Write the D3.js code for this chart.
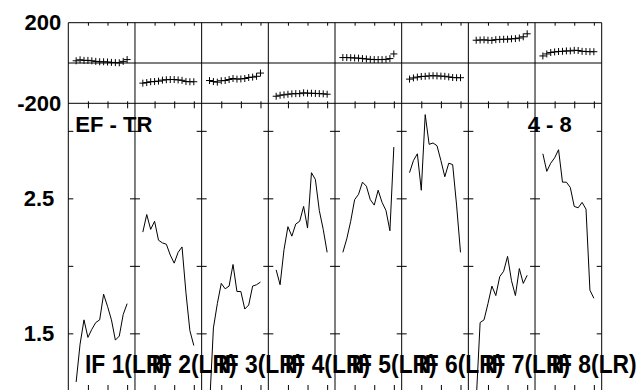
<!DOCTYPE html>
<html>
<head>
<meta charset="utf-8">
<script src="https://cdn.jsdelivr.net/npm/d3@7"></script>
<style>
  body { margin: 0; background: #fff; }
  svg text { font-family: "Liberation Sans", Arial, sans-serif; font-weight: bold; fill: #000; }
</style>
</head>
<body>
<div id="chart"></div>
<script>
// panel names and annotations
const columns = ["1", "2", "3", "4", "5", "6", "7", "8"];
const columnLabels = columns.map(c => `IF ${c}(LR)`);
const leftNote = "EF - TR";
const rightNote = "4 - 8";

// x positions inside each column (same for all panels)
const steps = [2, 3, 4, 5, 6, 7, 8, 9, 10, 11, 12, 13, 14, 15];
const stepTicks = [5, 10, 15];

// upper panel (crosses), one array per column
const upper1 = [11, 16, 13, 13, 11, 8, 6, 6, 5, 3, 2, 1, 8, 17];
const upper2 = [-100, -97, -93, -92, -90, -85, -83, -82, -82, -84, -86, -92, -93, -93];
const upper3 = [-87, -92, -95, -88, -87, -82, -77, -80, -79, -77, -72, -70, -66, -50];
const upper4 = [-165, -160, -158, -155, -153, -152, -152, -148, -150, -150, -151, -152, -153, -155];
const upper5 = [27, 27, 26, 25, 24, 22, 20, 18, 17, 17, 17, 18, 22, 45];
const upper6 = [-80, -74, -70, -67, -66, -64, -63, -64, -65, -66, -69, -72, -73, -73];
const upper7 = [113, 114, 115, 113, 112, 116, 117, 118, 118, 120, 121, 124, 130, 145];
const upper8 = [35, 45, 52, 55, 57, 58, 60, 60, 63, 62, 58, 57, 56, 56];
const upperTicks = [-200, 200];

// lower panel (lines), one array per column
const lower1 = [1.14, 1.42, 1.60, 1.47, 1.53, 1.58, 1.60, 1.79, 1.70, 1.60, 1.45, 1.48, 1.64, 1.72];
const lower2 = [2.25, 2.38, 2.27, 2.33, 2.19, 2.17, 2.16, 2.08, 2.02, 2.10, 2.14, 1.80, 1.52, 1.41];
const lower3 = [0.95, 1.54, 1.72, 1.87, 1.83, 1.85, 2.01, 1.81, 1.81, 1.68, 1.71, 1.85, 1.86, 1.88];
const lower4 = [1.97, 1.86, 2.12, 2.29, 2.22, 2.31, 2.33, 2.44, 2.28, 2.69, 2.64, 2.41, 2.27, 2.10];
const lower5 = [2.10, 2.20, 2.33, 2.49, 2.53, 2.62, 2.59, 2.49, 2.45, 2.56, 2.47, 2.41, 2.26, 2.88];
const lower6 = [2.69, 2.78, 2.83, 2.56, 3.12, 2.90, 2.91, 2.89, 2.78, 2.66, 2.76, 2.75, 2.45, 2.10];
const lower7 = [1.00, 1.58, 1.60, 1.72, 1.85, 1.78, 1.92, 1.96, 2.07, 1.89, 1.78, 1.98, 1.87, 1.93];
const lower8 = [2.83, 2.70, 2.76, 2.80, 2.86, 2.62, 2.62, 2.58, 2.44, 2.43, 2.47, 2.42, 1.82, 1.76];
const lowerTicks = [1.5, 2.0, 2.5, 3.0];
const lowerLabels = [1.5, 2.5];

const upperSeries = [upper1, upper2, upper3, upper4, upper5, upper6, upper7, upper8];
const lowerSeries = [lower1, lower2, lower3, lower4, lower5, lower6, lower7, lower8];

// Chart dimensions
const W = 641, H = 390;
const plotLeft = 68.3, plotRight = 601.7, plotTop = 22.7, split = 103.3, plotBottom = 391;

const svg = d3.select("#chart").append("svg")
  .attr("width", W)
  .attr("height", H);

// Scales
const col = d3.scaleBand().domain(d3.range(columns.length)).range([plotLeft, plotRight]);
const x = d3.scaleLinear().domain([0, 17]).range([0, col.bandwidth()]);
const yUp = d3.scaleLinear().domain([-200, 200]).range([split, plotTop]);
const yLow = d3.scaleLinear().domain([1.073, 3.204]).range([plotBottom, split]);

svg.append("clipPath").attr("id", "lowclip")
  .append("rect")
  .attr("x", plotLeft).attr("y", split)
  .attr("width", plotRight - plotLeft).attr("height", plotBottom - split);

// frame: zero line, panel separators, column separators
const frame = svg.append("g").attr("stroke", "#000").attr("stroke-width", 1).attr("fill", "none");
[plotTop, yUp(0), split].forEach(yy => {
  frame.append("line").attr("x1", plotLeft).attr("x2", plotRight).attr("y1", yy).attr("y2", yy);
});
d3.range(columns.length + 1).forEach(i => {
  const xx = i < columns.length ? col(i) : plotRight;
  frame.append("line").attr("x1", xx).attr("x2", xx).attr("y1", plotTop).attr("y2", plotBottom + 5);
});

// per column axes (ticks only) and marks
columns.forEach((c, i) => {
  const g = svg.append("g").attr("transform", `translate(${col(i)},0)`);

  const ticks = [
    { axis: d3.axisBottom(x).tickSize(3), y: plotTop },
    { axis: d3.axisTop(x).tickSize(2), y: split },
    { axis: d3.axisBottom(x).tickSize(5), y: split },
    { axis: d3.axisTop(x).tickSize(5), y: plotBottom - 1 }
  ];
  ticks.forEach(t => {
    g.append("g")
      .attr("transform", `translate(0,${t.y})`)
      .call(t.axis.tickValues(stepTicks).tickFormat(""))
      .call(a => a.select(".domain").remove());
  });

  g.append("g")
    .call(d3.axisRight(yLow).tickValues(lowerTicks).tickSize(5).tickFormat(""))
    .call(a => a.select(".domain").remove());
  g.append("g")
    .attr("transform", `translate(${col.bandwidth()},0)`)
    .call(d3.axisLeft(yLow).tickValues(lowerTicks).tickSize(5).tickFormat(""))
    .call(a => a.select(".domain").remove());

  // crosses
  g.selectAll("path.cross")
    .data(upperSeries[i])
    .join("path")
    .attr("class", "cross")
    .attr("transform", (d, j) => `translate(${x(steps[j])},${yUp(d)})`)
    .attr("d", "M-3.5,0H3.5M0,-3.5V3.5")
    .attr("stroke", "#000")
    .attr("stroke-width", 1)
    .attr("fill", "none");

  // line
  const line = d3.line()
    .x((d, j) => col(i) + x(steps[j]))
    .y(d => yLow(d));
  svg.append("path")
    .datum(lowerSeries[i])
    .attr("clip-path", "url(#lowclip)")
    .attr("d", line)
    .attr("fill", "none")
    .attr("stroke", "#000")
    .attr("stroke-width", 1);
});

svg.selectAll(".tick line").attr("stroke", "#000");

// left axis labels (plain hyphen for the minus, as in the source)
svg.append("g")
  .attr("transform", `translate(${plotLeft},0)`)
  .call(d3.axisLeft(yUp).tickValues(upperTicks).tickSize(0).tickPadding(7).tickFormat(d => String(d)))
  .call(a => a.select(".domain").remove())
  .selectAll("text")
  .style("font-size", "22px")
  .style("font-family", "Liberation Sans, Arial, sans-serif")
  .style("font-weight", "bold");

svg.append("g")
  .attr("transform", `translate(${plotLeft},0)`)
  .call(d3.axisLeft(yLow).tickValues(lowerLabels).tickSize(0).tickPadding(14).tickFormat(d3.format(".1f")))
  .call(a => a.select(".domain").remove())
  .selectAll("text")
  .style("font-size", "22px")
  .style("font-family", "Liberation Sans, Arial, sans-serif")
  .style("font-weight", "bold");

// notes
svg.append("text")
  .attr("x", plotLeft + 7)
  .attr("y", 131.5)
  .style("font-size", "22px")
  .text(leftNote);

svg.append("text")
  .attr("x", 527.7)
  .attr("y", 131.5)
  .style("font-size", "22px")
  .text(rightNote);

// column labels at the bottom (they overlap in the source too)
svg.selectAll("text.collabel")
  .data(columnLabels)
  .join("text")
  .attr("class", "collabel")
  .attr("x", (d, i) => col(i) + 16.7)
  .attr("y", 372.5)
  .attr("textLength", 85)
  .attr("lengthAdjust", "spacingAndGlyphs")
  .style("font-size", "25px")
  .text(d => d);
</script>
</body>
</html>
